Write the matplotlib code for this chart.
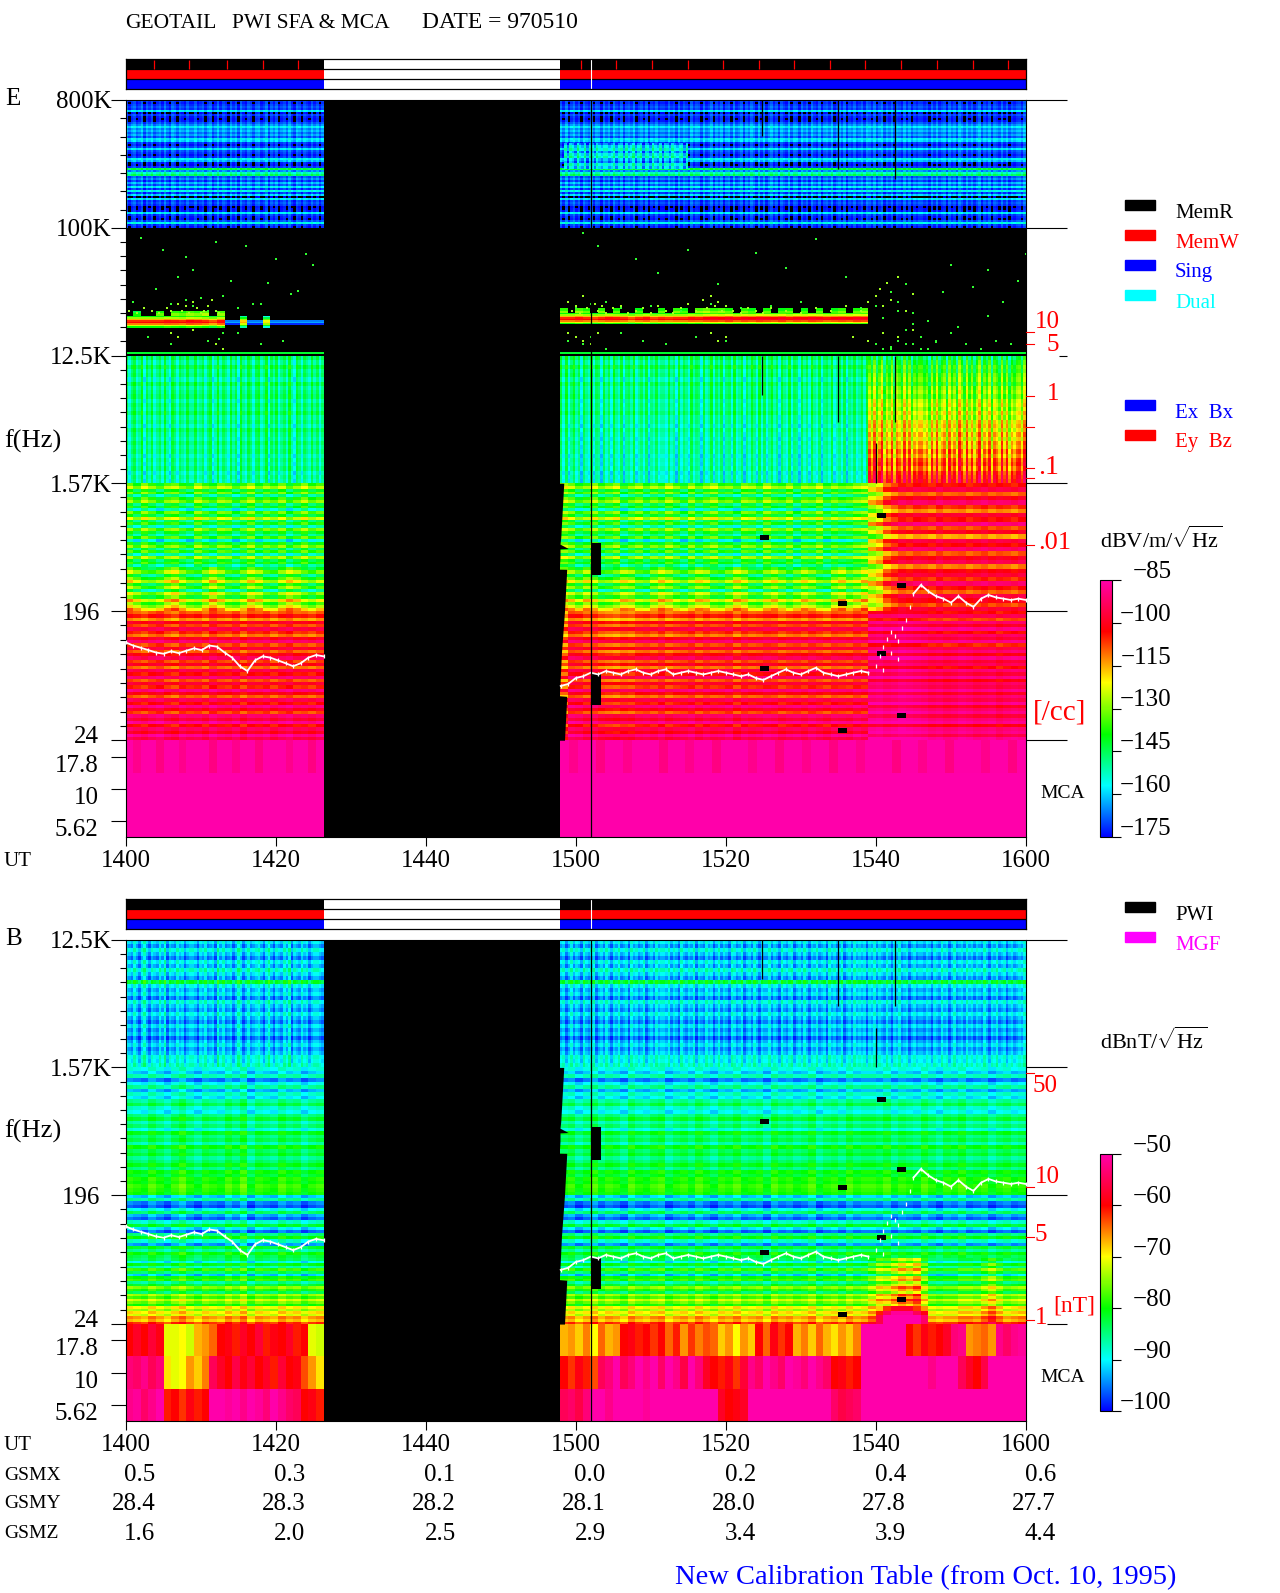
import numpy as np
import matplotlib
matplotlib.use('Agg')
import matplotlib.pyplot as plt
from matplotlib.colors import LinearSegmentedColormap, Normalize
from matplotlib.cm import ScalarMappable

W, H = 1280, 1593
plt.rcParams['font.family'] = ['Liberation Serif', 'DejaVu Sans']
plt.rcParams['mathtext.fontset'] = 'custom'
plt.rcParams['mathtext.rm'] = 'Liberation Serif'
FS = 18

# time is in minutes after 1400 UT
UT_TICKS = [0, 20, 40, 60, 80, 100, 120]
UT_LABELS = ['1400', '1420', '1440', '1500', '1520', '1540', '1600']
GSMX = ['0.5', '0.3', '0.1', '0.0', '0.2', '0.4', '0.6']
GSMY = ['28.4', '28.3', '28.2', '28.1', '28.0', '27.8', '27.7']
GSMZ = ['1.6', '2.0', '2.5', '2.9', '3.4', '3.9', '4.4']

E_FREQ = [800e3, 100e3, 12.5e3, 1570, 196]
B_FREQ = [12.5e3, 1570, 196]
E_FREQ_LAB = ['800K', '100K', '12.5K', '1.57K', '196  ']
B_FREQ_LAB = ['12.5K', '1.57K', '196  ']
# lowest ticks: the labels sit off their ticks
LOW_FREQ = [24, 18.4, 10.9, 6.45]
LOW_LAB = ['24', '17.8', '10', '5.62']
LOW_SHIFT = [2, -6.5, -6.5, -6.5]

# data segments: before the gap, quiet part after it, storm part at the end
T_L = (0, 26.4)
T_Q = (57.9, 99)
T_S = (99, 120)
T_R = (57.9, 120)

HDR_RED_TICKS = [3.8, 8.5, 13.5, 18.3, 23, 60.7, 65.4, 70.1, 74.9, 79.6, 84.4, 89.1, 93.9, 98.6, 103.4, 108.1, 112.9, 117.6]

# small-scale column offsets, 1 min columns
SPK_L = [2, -3, 1, 3, -2, 0, 4, -4, 2, -1, 3, -3, 0, 2, -2, 4, -1, -4, 3, 1, -3, 2, 0, -2, 3, -1]
SPK_Q = [3, -2, 4, -3, 1, 4, -1, 2, -4, 3, 0, -2, 4, -3, 2, 1, -4, 3, -1, 2, -3, 4, 0, -2, 3, -4, 1, 2, -1, 4, -3, 0, 2, -2, 3, -4, 1, -1, 3, -2, 0]
SPK_S = [4, -3, 7, -5, 2, 8, -6, 3, -2, 6, -7, 4, 1, -4, 7, -3, 5, -6, 2, -2, 3]

# 800K-100K band, rows top to bottom
E_TOP = [-171, -173, -171, -169, -171, -158, -175, -170, -173, -174, -173, -169, -165, -158, -165, -162, -167,
         -163, -169, -158, -160, -171, -173, -170, -158, -169, -171, -173, -171, -157, -162, -173, -174, -171,
         -144, -165, -152, -146, -169, -165, -171, -162, -169, -158, -171, -156, -171, -160, -177, -158, -171,
         -169, -171, -175, -174, -173, -158, -171, -173, -174, -169, -156, -171, -173]
# greener patch just after the gap
E_PATCH = [-166, -158, -154, -164, -156, -152, -162, -166, -155, -160]
E_PATCH_COL = [2, -4, 3, 1, -3, 4, 0, -2, 3, -4, 2, 1, -3, 3, 0, -2, 1]

# 100K-12.5K: mostly empty, one bright emission line
LINE_ROWS = [-139, -128, -116, -106, -103, -112, -124, -139]
LINE_L = [0, 0, 0, 0, 0, 2, 1, 0, 3, 2, 0, -3, 2, -60, -60, -12, -60, -60, -16, -60, -60, -60, -60, -60, -60, -60]
LINE_Q = [0, 0, 2, 0, -2, 0, 2, 1, 0, -3, 0, 2, -2, 0, -1, 0, 0, 2, 1, 3, 4, 3, 5, 2, 4, 3, 5, 4, 3, 5, 2, 4, 3, 5, 4, 2, 3, 4, 3, 5, 4]
# ragged fringe on top of the line (-60 is empty)
FRINGE_ROWS = [-144, -138]
FRINGE_L = [-60, 0, -60, -60, 6, -60, 8, 6, 10, 8, 12, -60, 10, -60, -60, -60, -60, -60, -60, -60, -60, -60, -60, -60, -60, -60]
FRINGE_Q = [8, -60, 10, 6, -60, 8, -60, 6, -60, -60, 4, -60, -60, 6, -60, 8, 4, -60, 10, 12, 8, 10, 6, -60, 8, 4, -60, 6, -60, 4, 6, -60, 4, -60, 6, -60, 4, 8, -60, 6, 10]
SPECK_T = [2, 5, 8, 9, 12, 14, 16, 20, 23, 25, 1, 4, 7, 10, 13, 17, 19, 22, 24, 3, 6, 11, 15, 18, 21, 12, 12.5, 13, 13, 12.7,
           6, 8, 9, 11, 15, 18, 61, 63, 68, 71, 75, 79, 84, 88, 92, 96, 60, 62, 64, 66, 70, 74, 78, 82, 86, 90, 94, 98,
           59, 61, 62, 64, 66, 69, 72, 76, 80, 100, 101, 102, 103, 104, 105, 106, 107, 108, 110, 112, 114, 116, 118,
           100, 101, 103, 105, 107, 109, 111, 113, 115, 117, 119, 101, 102, 104, 106, 108, 102, 103, 104, 105, 110, 115, 120]
SPECK_F = [85e3, 70e3, 62e3, 50e3, 80e3, 42e3, 74e3, 60e3, 36e3, 55e3, 30e3, 37e3, 45e3, 32e3, 33e3, 29e3, 41e3, 34e3, 65e3, 17e3, 15e3, 16e3, 18e3, 15e3, 16e3, 15e3, 16.5e3, 14e3, 18e3, 20e3,
           29e3, 31e3, 28e3, 26e3, 27e3, 29e3, 92e3, 75e3, 60e3, 48e3, 70e3, 40e3, 66e3, 52e3, 83e3, 45e3, 27e3, 29e3, 30e3, 27e3, 28e3, 26e3, 29e3, 27e3, 28e3, 30e3, 26e3, 27e3,
           16e3, 15e3, 17e3, 14e3, 18e3, 16e3, 15e3, 17e3, 16e3, 15e3, 18e3, 14e3, 16e3, 19e3, 15e3, 17e3, 14e3, 16e3, 18e3, 15e3, 14e3, 16e3, 15e3,
           28e3, 23e3, 30e3, 25e3, 22e3, 35e3, 20e3, 38e3, 24e3, 30e3, 42e3, 14e3, 14.5e3, 15e3, 14e3, 15.5e3, 35e3, 26e3, 40e3, 21e3, 55e3, 50e3, 65e3]
# dots around the emission line
HALO_T = [0.5, 1.5, 2.5, 3.5, 4.5, 5.5, 6, 7, 7.5, 8, 8.5, 9, 9.5, 10, 10.5, 11, 11.5, 12, 12.5, 59, 59.5, 60, 60.5, 61, 61.5, 62.5, 63, 63.5, 64, 65,
          66, 67, 68, 69, 70, 71, 72, 73, 74, 75, 76, 77, 77.5, 78, 78.5, 79, 79.5, 80, 81, 82, 83, 84, 85, 86, 88, 90, 92, 94, 96, 98, 99, 100,
          100.5, 101, 101.5, 102, 103, 104, 105, 6, 7, 9, 12, 13, 59, 60, 61, 62, 63, 78, 79, 80, 97, 99, 101, 103, 105]
HALO_F = [26e3, 25e3, 27e3, 26e3, 25e3, 27e3, 26e3, 29e3, 26e3, 28e3, 25e3, 30e3, 27e3, 25e3, 26e3, 28e3, 31e3, 26e3, 25e3, 30e3, 26e3, 28e3, 25e3, 33e3, 27e3, 29e3, 26e3, 28e3, 25e3, 27e3,
          28e3, 25e3, 26e3, 27e3, 25e3, 28e3, 26e3, 25e3, 27e3, 29e3, 26e3, 31e3, 27e3, 33e3, 28e3, 30e3, 26e3, 28e3, 26e3, 25e3, 27e3, 26e3, 25e3, 27e3, 26e3, 25e3, 27e3, 26e3, 28e3, 26e3, 30e3, 33e3,
          37e3, 28e3, 41e3, 31e3, 45e3, 26e3, 34e3, 18e3, 17e3, 19e3, 15e3, 14e3, 18e3, 17e3, 16e3, 15e3, 18e3, 18e3, 16e3, 17e3, 17e3, 16e3, 18e3, 17e3, 19e3]

# E panel, 12.5K-1.57K
E_B3_L = [-146, -150, -144, -149, -147, -152, -145, -150, -148, -146, -151, -147, -149, -145, -150, -148, -152, -146, -149, -151, -147, -150, -148, -152, -149, -151, -148, -153, -150, -152]
E_B3_Q = [-146, -150, -144, -149, -147, -152, -146, -150, -149, -147, -151, -149, -150, -147, -151, -150, -153, -149, -151, -153, -150, -152, -151, -154, -152, -153, -151, -155, -153, -154]
E_B3_S = [-146, -142, -138, -140, -136, -134, -138, -132, -130, -134, -128, -126, -130, -124, -128, -122, -120, -124, -118, -122, -116, -118, -112, -116, -110, -108, -112, -106, -104, -102]

# E panel, 1.57K-196, upper and lower part
E_B4A = [-136, -127, -143, -133, -150, -137, -130, -146, -139, -154, -133, -143, -125, -147, -138, -152, -131, -142, -149, -135, -156, -140, -131, -147, -136, -152, -129, -144, -138, -150]
E_B4B = [-140, -130, -146, -135, -124, -142, -132, -149, -128, -138, -120, -134, -126, -116]
E_B4A_S = [-104, -96, -110, -100, -92, -106, -113, -98, -104, -90, -108, -100, -115, -96, -103, -92, -109, -100, -95, -112, -102, -97, -106, -92, -104, -110, -96, -101, -108, -98]
COL_L4 = [4, -4, 6, 0, -6, 2, 4, -2, -6, 6, 0, -4, 4, 2, -6, 0, 6, -4, 2, -2, 4, -6, 0, 6, -2, 2]
COL_Q4 = [8, 4, -4, 0, 6, -2, 2, 6, -6, 0, 4, -4, 2, -2, 6, 0, -6, 4, -4, 2, 6, -2, 0, -6, 4, 2, -4, 6, 0, -2, 4, -6, 2, 0, 6, -4, 2, -2, 0, 4, 6]
COL_S4 = [-22, -18, -8, -4, 0, -2, 1, 0, -2, 2, -1, 0, 1, -2, 0, 2, -1, 1, 0, -2, 1]
BUMP_L = [8, 2, -4, -6, -2, 6, 10, 2, -4, -6, 2, 10, 4, -4, -6, 0, 8, 4, -4, -6, 2, 8, 4, -2, -6, 0]
BUMP_Q = [8, 4, -2, 6, 2, -6, -4, 0, 6, 4, -4, -6, 2, 8, 4, -2, -6, 0, 6, 4, -4, -6, 0, 8, 4, -4, -6, 2, 6, 0, -6, 0, 6, 2, -4, -6, 4, 8, 0, 4, 10]

# E panel, 196-24
E_B5 = [-110, -104, -114, -100, -108, -96, -106, -112, -100, -92, -108, -98, -110, -102, -94, -108, -100, -111, -96, -104, -92, -109, -98, -106, -90, -102, -110, -95, -104, -90, -100, -108, -92, -98, -88, -104, -94, -100, -88, -96]
E_B5_S = [-104, -95, -108, -92, -100, -89, -104, -93, -98, -89, -106, -96, -91, -102, -89, -98, -94, -104, -91, -98, -89, -102, -93, -96, -89, -100, -91, -96, -88, -100, -93, -89, -98, -91, -88, -102, -91, -89, -96, -88]
COL_L5 = [2, 0, -2, 1, 3, -1, -3, 2, 0, 1, -2, 3, 0, -1, 2, -3, 1, 0, 2, -2, 1, 3, -1, 0, -2, 1]
COL_Q5 = [-8, 2, 1, -2, 0, -3, -4, -5, -3, -4, -1, 0, -2, 1, -3, -1, 0, 2, -2, 1, -1, 0, 2, -3, 1, -1, 0, 2, 1, -2, 0, 1, -1, 2, 0, -2, 1, 0, -1, 2, 0]
COL_S5 = [3, 4, 2, 3, 5, 4, 3, 2, 0, 1, -1, 0, 2, 1, -1, 0, 1, -2, 0, 1, 0]

E_MCA = [-85.5, -85, -85]
E_MCA_COL = [0, -3, 0, 0, -4, 0, 0, -3, 0, 0, 0, -4, 0, 0, -3, 0, 0, -4, 0, 0, 0, -3, 0, 0, -4, 0]

# B panel, 12.5K-1.57K
B_B3 = [-91, -94, -89, -92, -95, -90, -93, -88, -91, -94, -82, -90, -93, -91, -95, -89, -92, -94, -90, -93, -95, -91, -94, -92, -96, -93, -91, -94, -92, -89, -90, -88]
# B panel, 1.57K-196
B_B4 = [-89, -92, -87, -95, -90, -86, -93, -88, -91, -86, -83, -88, -90, -85, -82, -87, -84, -89, -81, -85, -83, -87, -80, -84, -82, -86, -84, -81, -85, -80, -82, -79, -80, -78, -79, -80]
# B panel, 196-24
B_B5A = [-92, -86, -95, -97, -90, -84, -93, -96, -88, -82, -91, -96, -85, -80, -88, -94, -82, -86, -80, -83]
B_B5B = [-84, -90, -81, -87, -78, -84, -92, -80, -78, -86, -82, -75, -79, -84, -74, -78, -72, -76, -80, -70, -74, -69, -72, -66, -68, -62]
B_COL_L = [1, 0, -1, 2, 0, -2, 1, 3, 0, -2, 1, 0, -1, 2, 0, 3, -2, 1, 0, -1, 2, 0, 1, -2, 0, 1]
B_COL_Q = [0, 1, -2, 0, 2, -1, 1, 0, -2, 2, 0, -1, 1, 2, -2, 0, 1, -1, 2, 0, -2, 1, 0, 2, -1, 0, 1, -2, 2, 0, 1, -1, 0, 2, -2, 0, 1, -1, 2, 0, 1]
B_COL_S = [1, 0, 2, -1, 1, 0, -1, 2, 0, -2, 1, 0, 2, -1, 0, 1, -2, 0, 1, -1, 0]
B_STORM_COL = [4, 8, 7, 10, 13, 11, 14, 6, 0, -1, 0, 0, 2, 2, 1, 4, 7, 3, 0, 1, 2]
B_BLOB_ROWS = [-62, -55, -50, -50]
B_BLOB_COL = [-6, 0, 4, 4, 4, 0, -4]

# B panel, MCA rows, 1 min columns
MCA_L1 = [-60, -58, -60, -57, -59, -71, -71, -70, -72, -67, -66, -64, -60, -59, -61, -58, -60, -57, -61, -59, -60, -58, -61, -60, -71, -72]
MCA_L2 = [-53, -54, -52, -55, -53, -69, -71, -70, -66, -68, -65, -55, -58, -60, -56, -59, -57, -60, -58, -61, -57, -60, -59, -63, -66, -69]
MCA_L3 = [-52, -51, -54, -52, -50, -61, -60, -62, -59, -61, -60, -50, -50, -51, -50, -52, -50, -51, -53, -50, -52, -54, -55, -60, -59, -61]
MCA_R1 = [-67, -66, -68, -65, -70, -64, -67, -66, -60, -59, -61, -60, -62, -60, -64, -61, -66, -62, -65, -63, -64, -68, -66, -70, -66, -68, -60, -64, -59, -62, -60, -67, -65, -68, -64, -67, -69, -66, -68, -65, -50, -50, -50, -50, -50, -50, -60, -62, -59, -61, -60, -58, -53, -52, -66, -65, -64, -66, -52, -54, -52, -51]
MCA_R2 = [-60, -62, -59, -61, -63, -55, -53, -50, -55, -53, -50, -52, -50, -54, -50, -52, -56, -50, -53, -58, -60, -61, -59, -62, -57, -52, -54, -50, -52, -54, -50, -51, -53, -50, -52, -54, -60, -59, -61, -60, -50, -50, -50, -50, -50, -50, -50, -50, -50, -52, -50, -50, -50, -55, -58, -60, -56, -50, -50, -50, -50, -50]
MCA_R3 = [-55, -54, -56, -53, -50, -50, -52, -50, -50, -50, -50, -51, -50, -50, -50, -50, -50, -50, -50, -50, -50, -58, -60, -59, -58, -50, -50, -50, -50, -50, -50, -50, -50, -50, -50, -50, -54, -56, -55, -54, -50, -50, -50, -50, -50, -50, -50, -50, -50, -50, -50, -50, -50, -50, -50, -50, -50, -50, -50, -50, -50, -50]

# white line (Hz), one value per minute
WL_L = [118, 112, 108, 104, 100, 98, 102, 99, 103, 107, 104, 112, 110, 100, 92, 80, 74, 88, 94, 92, 88, 84, 80, 84, 92, 96, 94]
WL_R = [58, 60, 66, 68, 72, 70, 74, 72, 70, 74, 76, 72, 70, 74, 76, 70, 72, 74, 72, 70, 72, 74, 72, 70, 68, 70, 66, 64, 68, 72, 76, 72, 70, 74, 78, 72, 70, 68, 70, 72, 74, 72]
# scattered part around the storm onset
WL_DOT_T = [100, 100.5, 101, 101.5, 102, 102.5, 103, 103.5, 104, 104.5, 101, 102, 103]
WL_DOT_F = [80, 95, 110, 125, 140, 130, 120, 150, 170, 210, 75, 100, 90]
WL_S = [260, 300, 270, 250, 240, 225, 250, 225, 210, 240, 255, 245, 240, 235, 240, 235]

# saw-tooth start of the data after the gap
EDGE_F = [1570, 650, 583, 543, 540, 471, 388, 387, 196, 101, 60, 49.5, 49, 24]
EDGE_T = [58.4, 58.0, 57.9, 59.0, 57.9, 57.9, 57.8, 58.8, 58.5, 58.1, 57.9, 57.8, 58.8, 58.5]

# missing cells
HOLE_T0 = [62, 62, 84.6, 84.6, 95, 95, 100.2, 100.2, 102.8, 102.8]
HOLE_T1 = [63.3, 63.3, 85.8, 85.8, 96.2, 96.2, 101.4, 101.4, 104, 104]
HOLE_F = [455, 55, 650, 77, 223, 28, 925, 98, 298, 36]
HOLE_DF = [1.3, 1.3, 1.04, 1.04, 1.04, 1.04, 1.04, 1.04, 1.04, 1.04]

# black vertical data dropouts: time, top freq, bottom freq
DROP_T = [84.8, 84.8, 95, 95, 102.6, 102.6, 100]
DROP_HI = [800e3, 12.5e3, 800e3, 12.5e3, 800e3, 12.5e3, 3e3]
DROP_LO = [446e3, 6640, 262e3, 4240, 222e3, 4240, 1570]

CB_E = [-85, -100, -115, -130, -145, -160, -175]
CB_B = [-50, -60, -70, -80, -90, -100]

cmap = LinearSegmentedColormap.from_list('pwi', ['#0000ff', '#00ffff', '#00ff00', '#ffff00', '#ff0000', '#ff00aa'], N=256)
cmap.set_under('k')
norm_e = Normalize(-175, -85)
norm_b = Normalize(-100, -50)

fig = plt.figure(figsize=(W / 100, H / 100), dpi=100, facecolor='w')
AX_X0, AX_X1 = 125.5, 1026


def axes_px(x0, y0, x1, y1):
    return fig.add_axes([x0 / W, 1 - y1 / H, (x1 - x0) / W, (y1 - y0) / H])


def put(x, y, s, color='k', ha='left', fs=FS):
    fig.text(x / W, 1 - y / H, s, color=color, ha=ha, va='center', fontsize=fs)


def fine(cols, gain=1):
    # four passes over the offsets, for the speckled bands
    return [c * gain for c in list(cols) + list(cols[::-1]) + list(cols[3:]) + list(cols[:3])]


def band(ax, seg, f_hi, f_lo, rows, cols, norm):
    t = np.linspace(seg[0], seg[1], len(cols) + 1)
    f = np.geomspace(f_hi, f_lo, len(rows) + 1)
    ax.pcolormesh(t, f, np.add.outer(np.array(rows, float), np.array(cols, float)), cmap=cmap, norm=norm)


def panel(y0, y1, f_top, freq, labels):
    ax = axes_px(AX_X0, y0, AX_X1, y1)
    ax.set_facecolor('k')
    ax.set_yscale('log')
    ax.set_xlim(0, 120)
    ax.set_ylim(4.95, f_top)
    ax.set_yticks(freq + LOW_FREQ)
    ax.set_yticklabels(labels + [''] * len(LOW_FREQ), fontsize=FS)
    for f, lab, dy in zip(LOW_FREQ, LOW_LAB, LOW_SHIFT):
        ax.annotate(lab, (0, f), xycoords=('axes fraction', 'data'), xytext=(-19.5, dy), textcoords='offset points',
                    ha='right', va='center', fontsize=FS, annotation_clip=False)
    edges = [f for f in [800e3, 100e3, 12.5e3, 1570, 196, 24] if f <= f_top]
    minor = []
    for hi, lo in zip(edges[:-1], edges[1:]):
        n = 7 if hi == 800e3 else 9
        minor += list(np.geomspace(hi, lo, n + 1)[1:-1])
    ax.set_yticks(minor, minor=True)
    ax.set_yticklabels([], minor=True)
    ax.tick_params(axis='y', which='major', length=11, width=0.8, pad=-1)
    ax.tick_params(axis='y', which='minor', length=4, width=0.8)
    ax.set_xticks(UT_TICKS)
    ax.set_xticklabels(UT_LABELS, fontsize=FS)
    ax.tick_params(axis='x', length=6.5, width=0.8, pad=3)
    ax.spines['top'].set_visible(False)
    for s in ax.spines.values():
        s.set_linewidth(0.8)
    return ax


def overlays(ax):
    for seg, wl in ((T_L, WL_L), ((58, 99), WL_R), ((105, 120), WL_S)):
        ax.plot(np.linspace(seg[0], seg[1], len(wl)), wl, color='w', lw=1.3, marker='|', ms=3.5, mew=0.9, zorder=4)
    ax.scatter(WL_DOT_T, WL_DOT_F, s=5, marker='|', color='w', lw=0.9, zorder=4)
    ax.fill_betweenx(EDGE_F, 57.5, EDGE_T, color='k', lw=0, zorder=3)
    for t0, t1, f, df in zip(HOLE_T0, HOLE_T1, HOLE_F, HOLE_DF):
        ax.fill_between([t0, t1], f / df, f * df, color='k', lw=0, zorder=3)
    top = ax.get_ylim()[1]
    ax.vlines(62, 4.95, top, color='k', lw=0.9, zorder=5)
    for t, hi, lo in zip(DROP_T, DROP_HI, DROP_LO):
        if hi <= top:
            ax.vlines(t, lo, hi, color='k', lw=0.9, zorder=5)


def rline(ax, f, x0=AX_X1, x1=1067, color='k'):
    ax.plot([(x0 - AX_X0) / (AX_X1 - AX_X0), (x1 - AX_X0) / (AX_X1 - AX_X0)], [f, f],
            transform=ax.get_yaxis_transform(), clip_on=False, color=color, lw=0.8, solid_capstyle='butt')


def header(y0, ticks):
    ax = axes_px(AX_X0, y0, AX_X1, y0 + 30)
    ax.set_xlim(0, 120)
    ax.set_ylim(3, 0)
    ax.set_xticks([])
    ax.set_yticks([])
    for row, c in enumerate(['k', '#ff0000', '#0000ff']):
        for seg in (T_L, T_R):
            ax.barh(row + 0.5, seg[1] - seg[0], 1, left=seg[0], color=c, lw=0)
    ax.hlines([1, 2], 0, 120, color='k', lw=0.9)
    ax.vlines(62, 0, 3, color='w', lw=0.8)
    if ticks:
        ax.vlines(HDR_RED_TICKS, 0.05, 0.95, color='#ff0000', lw=0.9)
    for s in ax.spines.values():
        s.set_linewidth(0.9)


def colorbar(y0, y1, norm, ticks):
    cax = axes_px(1100, y0, 1111.7, y1)
    cb = fig.colorbar(ScalarMappable(norm=norm, cmap=cmap), cax=cax, ticks=ticks)
    cb.ax.tick_params(length=6.5, width=0.8, labelright=False)
    cb.outline.set_linewidth(0.8)
    for v in ticks:
        cax.annotate('\u2212%d' % abs(v), (1, v), xycoords=('axes fraction', 'data'),
                     xytext=(43, 5.8), textcoords='offset points', ha='right', va='center', fontsize=FS)


# E panel
header(59, True)
ax = panel(100, 837.3, 800e3, E_FREQ, E_FREQ_LAB)
band(ax, T_L, 800e3, 100e3, E_TOP, fine(SPK_L), norm_e)
band(ax, T_R, 800e3, 100e3, E_TOP, fine(SPK_Q) + fine(SPK_S, 0.5), norm_e)
band(ax, (58.5, 75), 398e3, 262e3, E_PATCH, fine(E_PATCH_COL, 2), norm_e)
band(ax, T_L, 24000, 19700, LINE_ROWS, LINE_L, norm_e)
band(ax, T_Q, 25000, 20800, LINE_ROWS, LINE_Q, norm_e)
band(ax, T_L, 26000, 24000, FRINGE_ROWS, FRINGE_L, norm_e)
band(ax, T_Q, 27000, 25000, FRINGE_ROWS, FRINGE_Q, norm_e)
ax.scatter(SPECK_T, SPECK_F, s=2.4, marker='s', color='#30ff30', lw=0, zorder=2)
ax.scatter(HALO_T, HALO_F, s=2.4, marker='s', color='#a0ff20', lw=0, zorder=2)
for seg in (T_L, T_R):
    band(ax, seg, 13350, 12950, [-142], [0], norm_e)
band(ax, T_L, 12400, 1570, E_B3_L, fine(SPK_L, 2), norm_e)
band(ax, T_Q, 12400, 1570, E_B3_Q, fine(SPK_Q, 2), norm_e)
band(ax, T_S, 12400, 1570, E_B3_S, fine(SPK_S, 1.5), norm_e)
band(ax, T_L, 1570, 400, E_B4A, COL_L4, norm_e)
band(ax, T_Q, 1570, 400, E_B4A, COL_Q4, norm_e)
band(ax, T_S, 1570, 196, E_B4A_S, COL_S4, norm_e)
band(ax, T_L, 400, 196, E_B4B, BUMP_L, norm_e)
band(ax, T_Q, 400, 196, E_B4B, BUMP_Q, norm_e)
band(ax, T_L, 196, 24, E_B5, COL_L5, norm_e)
band(ax, T_Q, 196, 24, E_B5, COL_Q5, norm_e)
band(ax, T_S, 196, 24, E_B5_S, COL_S5, norm_e)
band(ax, T_L, 24, 14.2, [E_MCA[0]], E_MCA_COL, norm_e)
band(ax, T_R, 24, 14.2, [E_MCA[0]], E_MCA_COL + E_MCA_COL, norm_e)
for seg in (T_L, T_R):
    band(ax, seg, 14.2, 4.95, E_MCA[1:], [0], norm_e)
overlays(ax)
for f, x0 in ((800e3, AX_X1), (100e3, AX_X1), (12.5e3, 1059), (1570, AX_X1), (196, AX_X1), (24, AX_X1)):
    rline(ax, f, x0=x0)
ax.plot([0, 120], [800e3, 800e3], color='k', lw=0.8, clip_on=False, zorder=6)

# B panel
header(899, False)
bx = panel(940, 1421, 12.5e3, B_FREQ, B_FREQ_LAB)
band(bx, T_L, 12.5e3, 1570, B_B3, fine(B_COL_L, 1.5), norm_b)
band(bx, T_Q, 12.5e3, 1570, B_B3, fine(B_COL_Q, 1.5), norm_b)
band(bx, T_S, 12.5e3, 1570, B_B3, fine(B_COL_S, 1.5), norm_b)
band(bx, T_L, 1570, 196, B_B4, B_COL_L, norm_b)
band(bx, T_Q, 1570, 196, B_B4, B_COL_Q, norm_b)
band(bx, T_S, 1570, 196, B_B4, B_COL_S, norm_b)
band(bx, T_L, 196, 70, B_B5A, B_COL_L, norm_b)
band(bx, T_Q, 196, 70, B_B5A, B_COL_Q, norm_b)
band(bx, T_S, 196, 70, B_B5A, B_COL_S, norm_b)
band(bx, T_L, 70, 24, B_B5B, B_COL_L, norm_b)
band(bx, T_Q, 70, 24, B_B5B, B_COL_Q, norm_b)
band(bx, T_S, 70, 24, B_B5B, B_STORM_COL, norm_b)
band(bx, (100, 107), 32, 24, B_BLOB_ROWS, B_BLOB_COL, norm_b)
mca_edges = [24, 14.2, 8.38, 4.95]
for i, (left, right) in enumerate(((MCA_L1, MCA_R1), (MCA_L2, MCA_R2), (MCA_L3, MCA_R3))):
    band(bx, T_L, mca_edges[i], mca_edges[i + 1], [0], left, norm_b)
    band(bx, T_R, mca_edges[i], mca_edges[i + 1], [0], right, norm_b)
overlays(bx)
for f, x0 in ((12.5e3, AX_X1), (1570, AX_X1), (196, AX_X1), (24, 1047)):
    rline(bx, f, x0=x0)
bx.plot([0, 120], [12.5e3, 12.5e3], color='k', lw=0.8, clip_on=False, zorder=6)

# red density scale ticks
for y in (332.3, 344.3, 396.3, 427.3, 468.3, 478.3, 545.3, 1073, 1187, 1237, 1320):
    fig.add_artist(plt.Line2D([AX_X1 / W, 1034 / W], [1 - y / H] * 2, color='#ff0000', lw=0.8))

colorbar(580, 837, norm_e, CB_E)
colorbar(1154, 1411, norm_b, CB_B)

put(125, 23, 'GEOTAIL', fs=15.5)
put(232, 23, 'PWI SFA & MCA', fs=15.5)
put(422, 23, 'DATE = 970510', fs=17)
put(5, 99, 'E')
put(5, 939, 'B')
put(4, 441, 'f(Hz)', fs=19)
put(4, 1131, 'f(Hz)', fs=19)
put(4, 862, 'UT', fs=15)
put(4, 1445, 'UT', fs=15)
put(4, 1475, 'GSMX', fs=14)
put(4, 1504, 'GSMY', fs=14)
put(4, 1534, 'GSMZ', fs=14)
for i, t in enumerate(UT_TICKS):
    x = AX_X0 + t * 7.504 + 30
    put(x, 1475, GSMX[i], ha='right')
    put(x, 1504, GSMY[i], ha='right')
    put(x, 1534, GSMZ[i], ha='right')

for y, lab, c in ((213, 'MemR', 'k'), (243, 'MemW', '#ff0000'), (273, 'Sing', '#0000ff'), (303, 'Dual', '#00ffff'),
                  (413, 'Ex  Bx', '#0000ff'), (443, 'Ey  Bz', '#ff0000'), (915, 'PWI', 'k'), (945, 'MGF', '#ff00ff')):
    bar_y = y - 8
    fig.patches.append(plt.Rectangle((1125 / W, 1 - (bar_y + 5) / H), 30 / W, 10 / H, transform=fig.transFigure, color=c))
    put(1175, y, lab, color=c, fs=15)

for x, y, s, fs in ((1035, 322, '10', 18), (1047, 345, '5', 18), (1047, 394, '1', 18), (1038, 467, '.1', 20), (1038, 543, '.01', 19),
                    (1033, 713, '[/cc]', 21), (1033, 1086, '50', 18), (1035, 1177, '10', 18), (1035, 1235, '5', 18), (1035, 1318, '1', 18),
                    (1053, 1306, '[nT]', 17)):
    put(x, y, s, color='#ff0000', fs=fs)
put(1040, 793, 'MCA', fs=14)
put(1040, 1377, 'MCA', fs=14)

put(1100, 540, 'dBV/m/$\\sqrt{\\mathrm{Hz}}$', fs=16)
put(1100, 1041, 'dBnT/$\\sqrt{\\mathrm{Hz}}$', fs=16)
put(675, 1578, 'New Calibration Table (from Oct. 10, 1995)', color='#0000ff', fs=20.5)

fig.savefig('out.png', dpi=100, facecolor='w')
